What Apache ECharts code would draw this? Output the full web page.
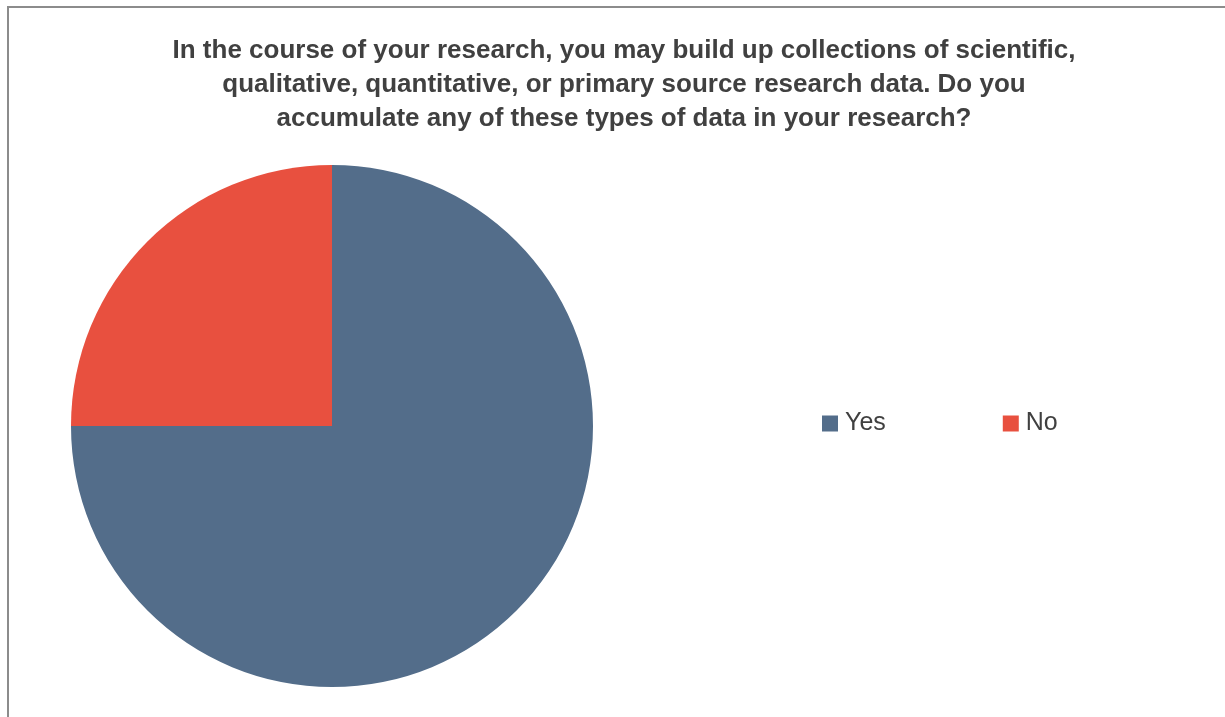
<!DOCTYPE html>
<html>
<head>
<meta charset="utf-8">
<script src="https://cdn.jsdelivr.net/npm/echarts@6/dist/echarts.min.js"></script>
<style>
  html, body { margin: 0; padding: 0; background: #fff; overflow: hidden; }
  .frame {
    position: absolute; left: 7px; top: 6px; width: 1400px; height: 900px;
    border-left: 2px solid #8c8c8c; border-top: 2px solid #8c8c8c;
  }
  #chart { position: absolute; left: 0; top: 0; width: 1225px; height: 717px; }
</style>
</head>
<body>
<div class="frame"></div>
<div id="chart"></div>
<script>
const categories = ['Yes', 'No']
const values = [75, 25]
const colors = ['#536d8a', '#e8503f']
const titleText = 'In the course of your research, you may build up collections of scientific,\nqualitative, quantitative, or primary source research data. Do you\naccumulate any of these types of data in your research?'

const font = "'Liberation Sans Narrow', 'Arial Narrow', 'Liberation Sans', Arial, sans-serif"
let mychart = echarts.init(document.getElementById('chart'))
let option = {
  animation: false,
  title: {
    text: titleText,
    left: 619,
    top: 29,
    textAlign: 'center',
    textStyle: {
      fontFamily: font,
      fontSize: 26,
      fontWeight: 'bold',
      color: '#404040',
      lineHeight: 34
    }
  },
  legend: {
    data: categories,
    left: 822,
    top: 411,
    padding: 0,
    icon: 'rect',
    itemWidth: 16,
    itemHeight: 16,
    itemGap: 117,
    textStyle: {
      fontFamily: font,
      fontSize: 25,
      color: '#404040',
      padding: [0, 0, 0, 2]
    }
  },
  color: colors,
  series: [
    {
      type: 'pie',
      center: [332, 426],
      radius: 261,
      startAngle: 90,
      clockwise: true,
      label: { show: false },
      labelLine: { show: false },
      itemStyle: { borderWidth: 0 },
      emphasis: { disabled: true },
      data: categories.map((c, i) => ({ name: c, value: values[i] }))
    }
  ]
}
mychart.setOption(option)
</script>
</body>
</html>
